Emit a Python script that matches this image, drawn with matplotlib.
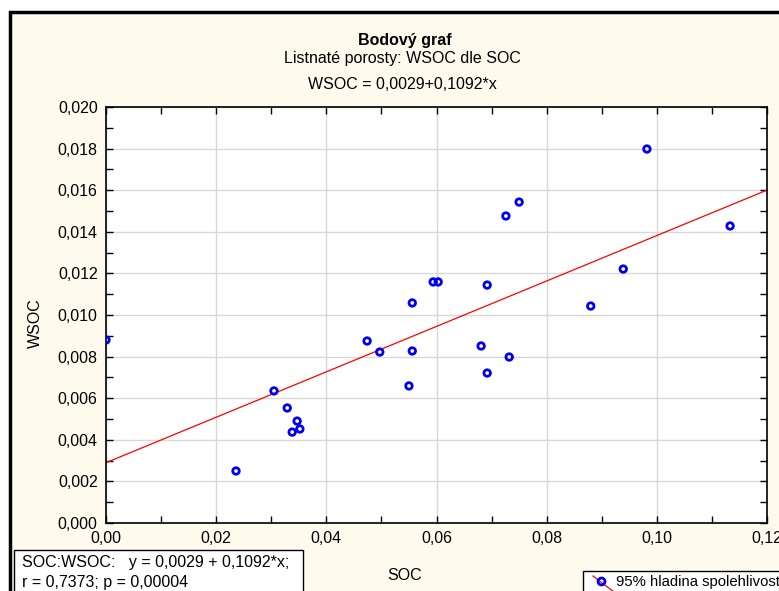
import matplotlib
matplotlib.use("Agg")
import matplotlib.pyplot as plt
import matplotlib.ticker as mticker
from matplotlib.patches import Rectangle
from matplotlib.lines import Line2D
import numpy as np

plt.rcParams['font.family'] = ['Liberation Sans', 'DejaVu Sans']

soc = [0.0000, 0.0236, 0.0305, 0.0329, 0.0347, 0.0338, 0.0352, 0.0474, 0.0497,
       0.0556, 0.0550, 0.0556, 0.0594, 0.0603, 0.0681, 0.0692, 0.0692, 0.0732,
       0.0726, 0.0750, 0.0880, 0.0939, 0.0982, 0.1133]
wsoc = [0.0088, 0.0025, 0.00635, 0.00553, 0.0049, 0.00437, 0.00452, 0.00875, 0.00822,
        0.00827, 0.00659, 0.01058, 0.01159, 0.01159, 0.00851, 0.01144, 0.00721, 0.00798,
        0.01476, 0.01543, 0.01043, 0.01221, 0.01798, 0.01428]
intercept = 0.0029
slope = 0.1092
x_ticks = [0.00, 0.02, 0.04, 0.06, 0.08, 0.10, 0.12]
y_ticks = [0.000, 0.002, 0.004, 0.006, 0.008, 0.010, 0.012, 0.014, 0.016, 0.018, 0.020]

W, H = 779, 591
FS = 11.5
fig = plt.figure(figsize=(W/100, H/100), dpi=100)
fig.patch.set_facecolor('white')

cream = '#FFFAEE'
# outer frame
fig.patches.append(Rectangle((10/W, -0.1), 1.2, 1 - 12/H + 0.1, transform=fig.transFigure,
                             facecolor=cream, edgecolor='black', linewidth=2.5, zorder=-5))

left, right, top, bottom = 106, 767, 107, 523
ax = fig.add_axes([left/W, 1 - bottom/H, (right-left)/W, (bottom-top)/H], zorder=5)
ax.set_facecolor('white')

ax.scatter(soc, wsoc, s=22, facecolors='none', edgecolors='#0000EE', linewidths=2.0, zorder=3)
xl = np.array([0.0, 0.12])
ax.plot(xl, intercept + slope*xl, color='red', linewidth=0.9, zorder=2)

ax.set_xlim(0, 0.12)
ax.set_ylim(0, 0.020)
ax.set_xticks(x_ticks)
ax.set_yticks(y_ticks)
ax.xaxis.set_minor_locator(mticker.MultipleLocator(0.01))
ax.yaxis.set_minor_locator(mticker.MultipleLocator(0.001))
ax.set_xticklabels([f"{v:.2f}".replace('.', ',') for v in x_ticks])
ax.set_yticklabels([f"{v:.3f}".replace('.', ',') for v in y_ticks])
ax.tick_params(which='both', direction='in', top=True, right=True, length=5, width=1, labelsize=FS)
ax.tick_params(axis='x', which='both', labeltop=False, pad=6)
ax.tick_params(axis='y', which='both', pad=6)
ax.grid(True, which='major', color='#D8D8D8', linewidth=1)
ax.set_axisbelow(True)
for s in ax.spines.values():
    s.set_linewidth(1.2)

fig.text(405/W, 1 - 40/H, 'Bodový graf', ha='center', va='center', fontsize=FS, fontweight='bold')
fig.text(402/W, 1 - 58/H, 'Listnaté porosty: WSOC dle SOC', ha='center', va='center', fontsize=FS)
fig.text(402/W, 1 - 85/H, 'WSOC = 0,0029+0,1092*x', ha='center', va='center', fontsize=FS)
fig.text(35/W, 1 - 323/H, 'WSOC', ha='center', va='center', rotation=90, fontsize=FS)
fig.text(405/W, 1 - 576/H, 'SOC', ha='center', va='center', fontsize=FS)

# statistics box
fig.patches.append(Rectangle((14/W, -0.1), (303-14)/W, (0.1 + 1 - 550/H), transform=fig.transFigure,
                             facecolor='white', edgecolor='black', linewidth=1, zorder=1))
fig.text(22/W, 1 - 563/H, 'SOC:WSOC:   y = 0,0029 + 0,1092*x;', ha='left', va='center', fontsize=FS)
fig.text(22/W, 1 - 582/H, 'r = 0,7373; p = 0,00004', ha='left', va='center', fontsize=FS)

# legend box
fig.patches.append(Rectangle((583/W, -0.1), 0.5, (0.1 + 1 - 571/H), transform=fig.transFigure,
                             facecolor='white', edgecolor='black', linewidth=1, zorder=1))
fig.add_artist(Line2D([593/W, 614/W], [1 - 576/H, 1 - 592/H], transform=fig.transFigure,
                      color='red', linewidth=0.9))
fig.add_artist(Line2D([601/W], [1 - 581/H], transform=fig.transFigure, marker='o',
                      markersize=5, markerfacecolor='none', markeredgecolor='#0000EE',
                      markeredgewidth=2, linestyle='none'))
fig.text(616/W, 1 - 582/H, '95% hladina spolehlivosti', ha='left', va='center', fontsize=10.7)

fig.savefig('out.png', dpi=100, facecolor=fig.get_facecolor())
